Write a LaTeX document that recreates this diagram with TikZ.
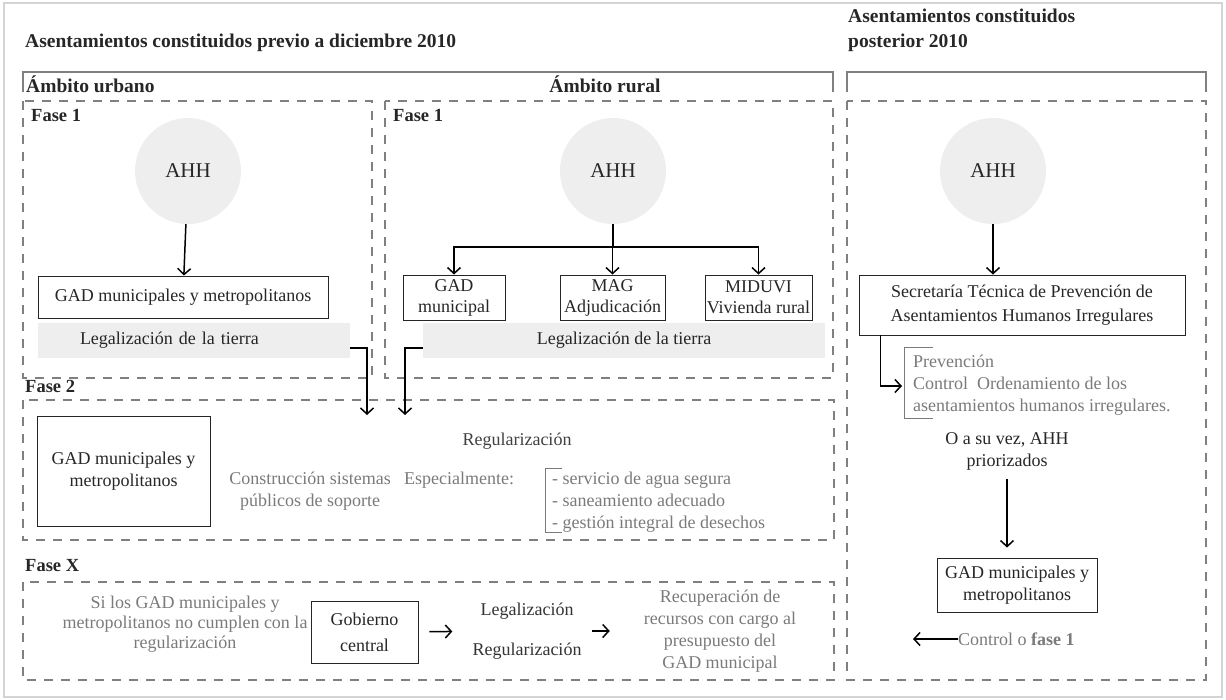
\documentclass[tikz,border=0pt]{standalone}
\usepackage{fontspec}
\setmainfont{Liberation Serif}
\usetikzlibrary{arrows.meta, positioning, calc}
\definecolor{ahhgray}{HTML}{EEEEEE}
\definecolor{framegray}{HTML}{D4D4D4}
\definecolor{dashgray}{HTML}{808080}
\definecolor{notegray}{HTML}{7A7A7A}
\definecolor{inkdark}{HTML}{262626}

\begin{document}
\begin{tikzpicture}[x=1pt,y=-1pt,
    every node/.style={font=\fontsize{18}{21}\selectfont, text=inkdark, inner sep=0pt},
    heading/.style={font=\fontsize{19.5}{25}\selectfont\bfseries, anchor=west, align=left},
    phaselbl/.style={font=\fontsize{18.5}{22}\selectfont\bfseries, anchor=west},
    phasebox/.style={draw=dashgray, line width=1.3pt, dash pattern=on 9pt off 8pt},
    scopeline/.style={draw=dashgray, line width=1.5pt},
    ahh/.style={circle, fill=ahhgray, minimum size=106pt, font=\fontsize{21}{24}\selectfont},
    agent/.style={draw=inkdark, line width=0.9pt, align=center},
    landbar/.style={fill=ahhgray, minimum height=35pt},
    note/.style={text=notegray, align=center},
    flow/.style={draw=black, line width=1.5pt, -{Straight Barb[length=6pt,width=13pt]}}]
  \useasboundingbox (0,0) rectangle (1226,699);
  \draw[framegray, line width=2pt] (4,3) rectangle (1222,697);

  % headings
  \node[heading] (titlePrev) at (25,43) {Asentamientos constituidos previo a diciembre 2010};
  \node[heading] (titlePost) at (848,30) {Asentamientos constituidos\\posterior 2010};
  \draw[scopeline] (23,92) |- (833,72) -- (833,92);
  \draw[scopeline] (847,92) |- (1206,72) -- (1206,92);
  \node[heading] (urbano) at (26,84) {Ámbito urbano};
  \node[heading, anchor=center] (rural) at (605,84) {Ámbito rural};

  % phases
  \draw[phasebox] (23,101) rectangle (372,378);
  \draw[phasebox] (385,101) rectangle (833,378);
  \draw[phasebox] (847,101) rectangle (1206,680);
  \draw[phasebox] (23,400) rectangle (834,540);
  \draw[phasebox] (23,582) rectangle (834,680);
  \foreach \x/\y/\t [count=\i] in {31/115/Fase 1, 393/115/Fase 1, 25/386/Fase 2, 25/566/Fase X}
    \node[phaselbl] (phase\i) at (\x,\y) {\t};

  % urbano, fase 1
  \node[ahh] (ahhU) at (188,171) {AHH};
  \node[agent, minimum width=290, minimum height=42] (gadU) at (183,297) {GAD municipales y metropolitanos};
  \draw[flow] (ahhU) -- (gadU);
  \node[landbar, minimum width=312, text width=228, align=left] (landU) at (194,340) {Legalización de la tierra};

  % rural, fase 1
  \node[ahh] (ahhR) at (613,171) {AHH};
  \coordinate (splitR) at (613,247);
  \draw[line width=1.5pt] (ahhR) -- (splitR);
  \foreach \n/\cx/\w/\t in {gadR/454/102/{GAD\\municipal}, magR/612.5/105/{MAG\\Adjudicación}, miduviR/758.5/107/{MIDUVI\\Vivienda rural}} {
    \node[agent, minimum width=\w, minimum height=45] (\n) at (\cx,297.5) {\t};
    \draw[flow] (splitR) -| (\n);
  }
  \node[landbar, minimum width=402] (landR) at (624,340) {Legalización de la tierra};

  % into fase 2
  \coordinate (dropU) at (367,415);
  \coordinate (dropR) at (405,415);
  \draw[flow] ([yshift=-8pt]landU.east) -| (dropU);
  \draw[flow] ([yshift=-8pt]landR.west) -| (dropR);

  % fase 2
  \node[agent, minimum width=173, minimum height=110, font=\fontsize{18}{22}\selectfont] (gadF2) at (123.5,471) {GAD municipales y\\metropolitanos};
  \node[text=black!75] (regul) at (517,441) {Regularización};
  \node[note, font=\fontsize{18}{22}\selectfont] (sistemas) at (310,491) {Construcción sistemas\\públicos de soporte};
  \node[note] (especial) at (459,480) {Especialmente:};
  \draw[notegray, line width=1pt] (562,468) -| (545,532) -- (562,532);
  \node[note, align=left, anchor=west, font=\fontsize{18}{22}\selectfont] (servicios) at (552,502)
    {- servicio de agua segura\\- saneamiento adecuado\\- gestión integral de desechos};

  % fase X
  \node[note, font=\fontsize{18}{20}\selectfont] (incumple) at (185,624) {Si los GAD municipales y\\metropolitanos no cumplen con la\\regularización};
  \node[agent, minimum width=107, minimum height=62, font=\fontsize{18}{26}\selectfont] (gobierno) at (364.5,632) {Gobierno\\central};
  \node[text=black!80, align=center] (legreg) at (527,631) {Legalización\\[19pt]Regularización};
  \node[note, font=\fontsize{18}{22}\selectfont] (recupera) at (720,631) {Recuperación de\\recursos con cargo al\\presupuesto del\\GAD municipal};
  \draw[flow, shorten <=11pt, shorten >=20pt] (gobierno) -- (legreg);
  \draw[flow, shorten <=10pt, shorten >=34pt] (legreg) -- (recupera);

  % posterior 2010
  \node[ahh] (ahhP) at (993,171) {AHH};
  \node[agent, minimum width=326, minimum height=60, font=\fontsize{18}{24}\selectfont] (secretaria) at (1022,305)
    {Secretaría Técnica de Prevención de\\Asentamientos Humanos Irregulares};
  \draw[flow] (ahhP) -- (ahhP |- secretaria.north);
  \coordinate (prevTip) at (902,386);
  \draw[flow] ([xshift=22pt]secretaria.south west) |- (prevTip);
  \draw[notegray, line width=1pt] (933,347) -| (904,418) -- (933,418);
  \node[note, align=left, anchor=west, font=\fontsize{18}{22}\selectfont] (prevencion) at (913,385)
    {Prevención\\Control\ \ Ordenamiento de los\\asentamientos humanos irregulares.};
  \node[text=black!85, align=center, font=\fontsize{18}{22}\selectfont] (priorizados) at (1007,451) {O a su vez, AHH\\priorizados};
  \node[agent, minimum width=160, minimum height=54, font=\fontsize{18}{22}\selectfont] (gadP) at (1017,585) {GAD municipales y\\metropolitanos};
  \draw[flow, shorten <=9pt, shorten >=10pt] (priorizados) -- (priorizados |- gadP.north);
  \node[note, anchor=west] (control) at (958,639) {Control o \textbf{fase 1}};
  \coordinate (controlTip) at (913,639);
  \draw[flow] (control.west) -- (controlTip);
\end{tikzpicture}
\end{document}
